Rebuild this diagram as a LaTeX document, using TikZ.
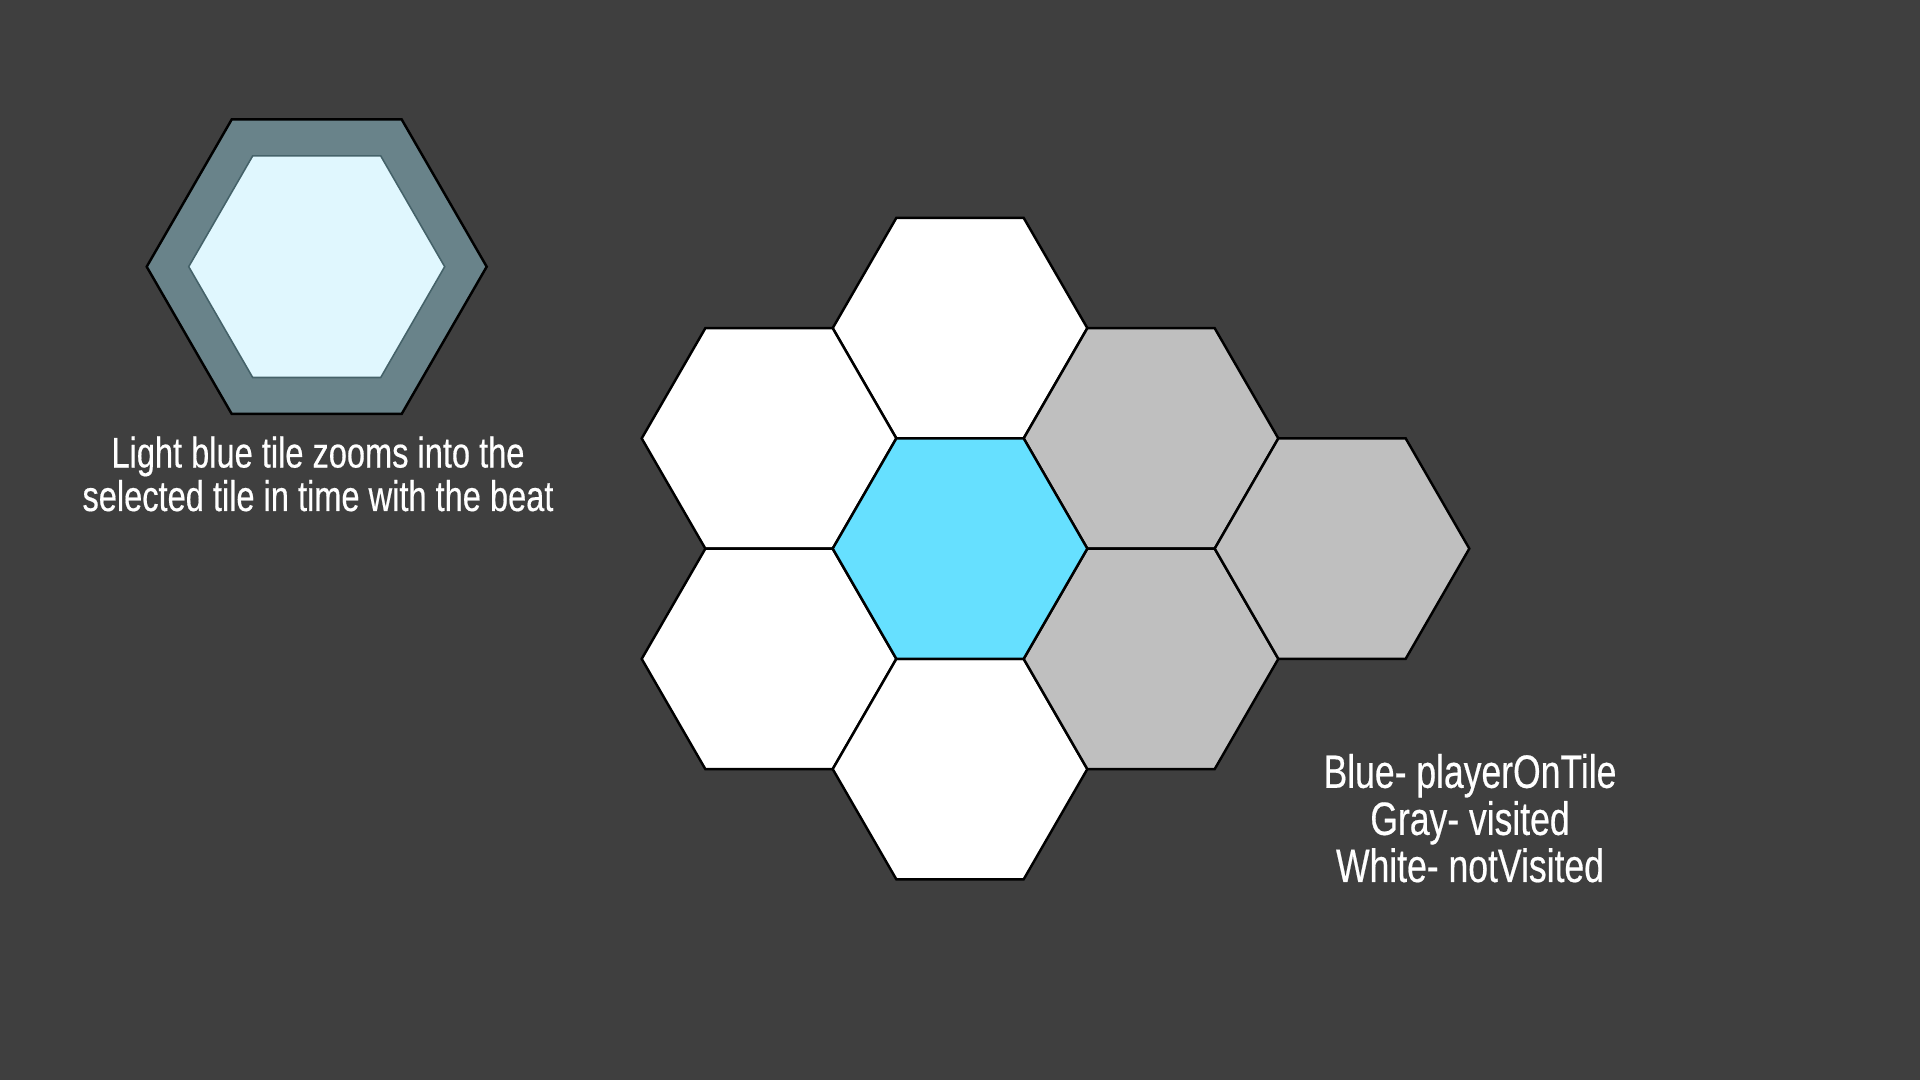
\documentclass[tikz,border=0pt]{standalone}
\usepackage{fontspec}
\setmainfont[FakeStretch=0.76,FakeBold=0.4]{Liberation Sans}
\usetikzlibrary{shapes.geometric}
\definecolor{bgc}{HTML}{3F3F3F}
\definecolor{tealouter}{HTML}{69838A}
\definecolor{tealline}{HTML}{456269}
\definecolor{iceblue}{HTML}{E0F7FE}
\definecolor{playerblue}{HTML}{66E0FF}
\definecolor{visitedgray}{HTML}{BFBFBF}
\tikzset{
  hextile/.style={regular polygon, regular polygon sides=6, minimum size=2.546cm,
    inner sep=0pt, outer sep=0pt, draw=black, line width=0.7pt, line join=miter},
  whitetile/.style={hextile, fill=white},
  graytile/.style={hextile, fill=visitedgray},
  bluetile/.style={hextile, fill=playerblue},
  caption/.style={text=white, align=center, inner sep=0pt, anchor=base}
}
\begin{document}
\begin{tikzpicture}
\fill[bgc] (0,0) rectangle (19.2,10.8);
\useasboundingbox (0,0) rectangle (19.2,10.8);
% zoom indicator tile
\node[regular polygon, regular polygon sides=6, minimum size=3.40cm, inner sep=0pt, outer sep=0pt,
  draw=black, line width=0.7pt, fill=tealouter] (outerhex) at (3.167,8.133) {};
\node[regular polygon, regular polygon sides=6, minimum size=2.56cm, inner sep=0pt, outer sep=0pt,
  draw=tealline, line width=0.45pt, fill=iceblue] (innerhex) at (outerhex.center) {};
\node[caption, font=\fontsize{12.2}{10.7}\selectfont] (zoomtext) at (3.18,5.69)
  {Light blue tile zooms into the\\selected tile in time with the beat};
% grid
\node[whitetile] (top) at (9.60,7.519) {};
\node[whitetile] (lu) at (7.69,6.416) {};
\node[whitetile] (ld) at (7.69,4.211) {};
\node[whitetile] (bottom) at (9.60,3.109) {};
\node[graytile] (ru) at (11.51,6.416) {};
\node[graytile] (rd) at (11.51,4.211) {};
\node[graytile] (fr) at (13.42,5.314) {};
\node[bluetile] (blue) at (9.60,5.314) {};
% legend
\node[caption, font=\fontsize{13.3}{11.4}\selectfont] (legend) at (14.70,1.98)
  {Blue- playerOnTile\\Gray- visited\\White- notVisited};
\end{tikzpicture}
\end{document}
